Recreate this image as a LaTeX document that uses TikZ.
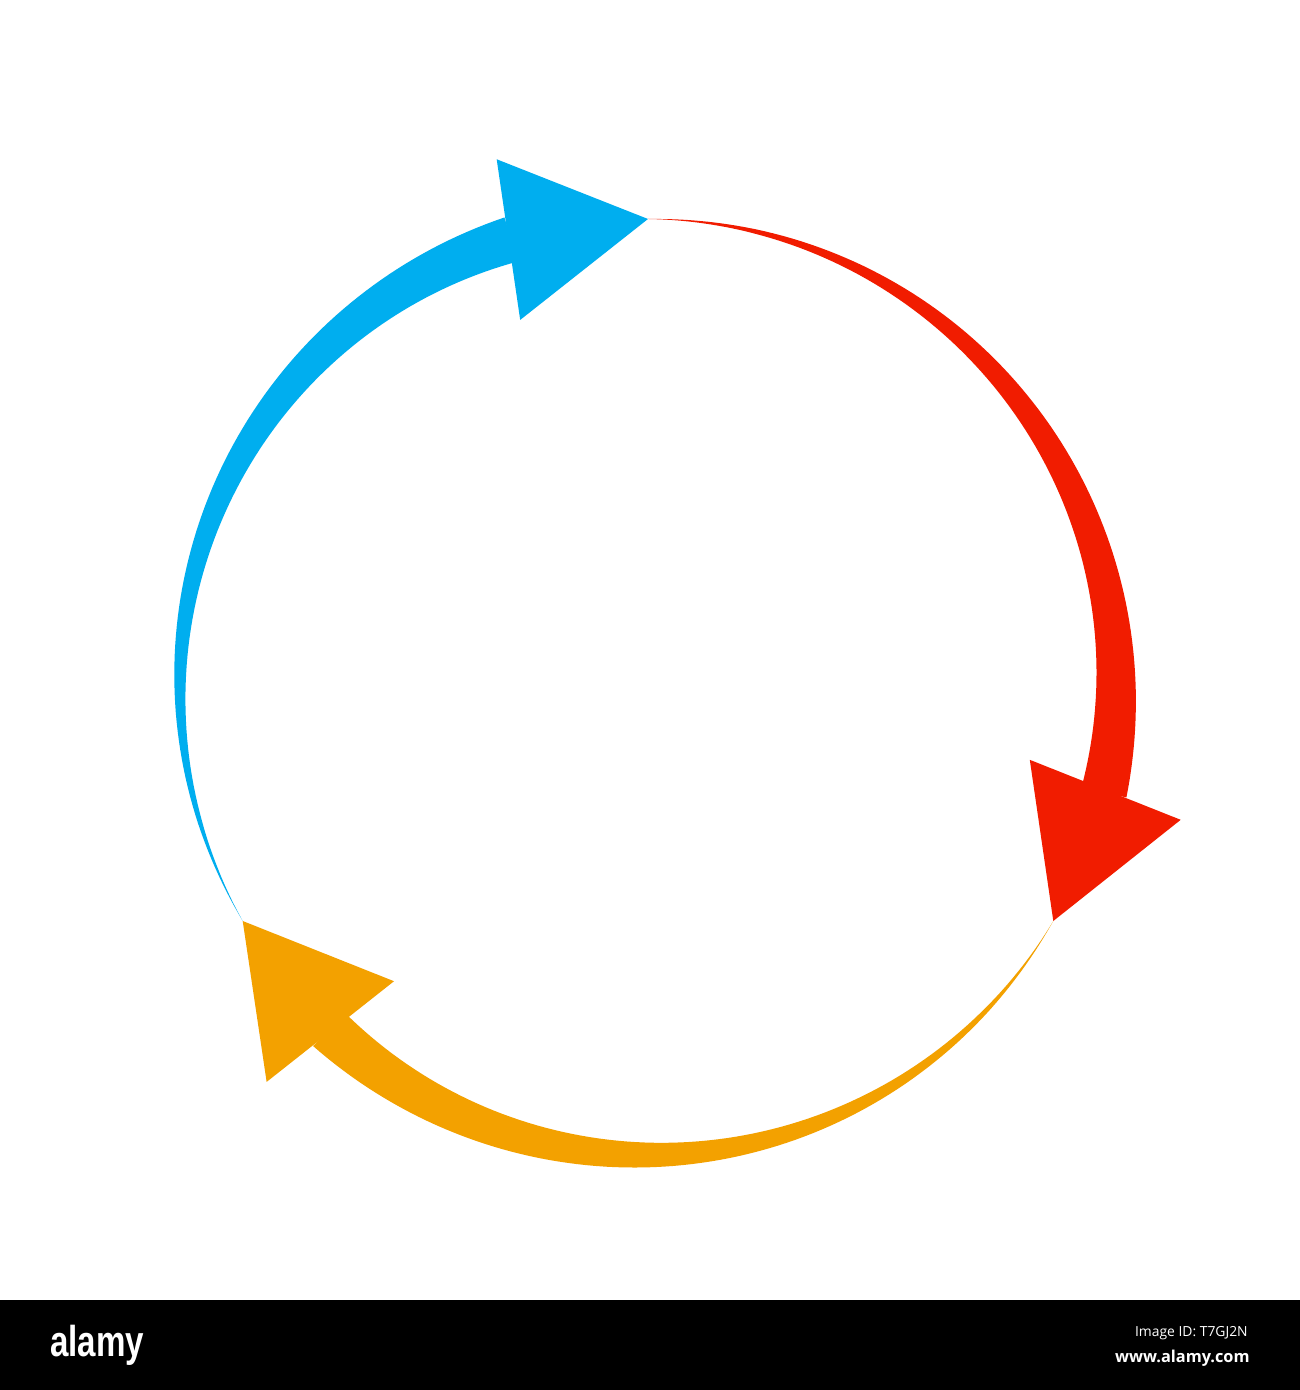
\documentclass[tikz,border=0pt]{standalone}
\usepackage{fontspec}
\setmainfont{Liberation Sans}
\newfontfamily\opensans{Open Sans}
\definecolor{arrblue}{RGB}{0,174,239}
\definecolor{arrred}{RGB}{241,28,0}
\definecolor{arrorange}{RGB}{243,161,0}
\begin{document}
\begin{tikzpicture}[x=0.02cm,y=0.02cm,
  bartext/.style={inner sep=0pt,text=white}]
\useasboundingbox (0,0) rectangle (1300,1390);
\fill[white] (0,0) rectangle (1300,1390);
\begin{scope}[shift={(648,703)}]
\foreach \rot/\col in {0/arrblue,-120/arrred,-240/arrorange}{
 \begin{scope}[rotate=\rot]
  \fill[\col] (210:468)
    -- plot[domain=0.5:103,samples=90,variable=\t] ({210-\t}:{468+23*pow(\t/103,1.15)})
    -- plot[domain=103:0.5,samples=90,variable=\t] ({210-\t}:{468-23*pow(\t/103,1.15)})
    -- cycle;
  \fill[\col] (90:468) -- (106:549) -- (109.2:388.7) -- cycle;
 \end{scope}
}
\end{scope}
\fill[black] (0,0) rectangle (1300,90);
\node[bartext,anchor=base west,font=\bfseries\fontsize{23}{23}\selectfont] (logo) at (50,33) {\scalebox{0.82}[1.07]{alamy}};
\node[bartext,anchor=base east,font=\opensans\fontsize{7.9}{8}\selectfont] (imgid) at (1248,53) {Image ID: T7GJ2N};
\node[bartext,anchor=base east,font=\opensans\bfseries\fontsize{9.3}{10}\selectfont] (url) at (1250,28) {www.alamy.com};
\end{tikzpicture}
\end{document}
